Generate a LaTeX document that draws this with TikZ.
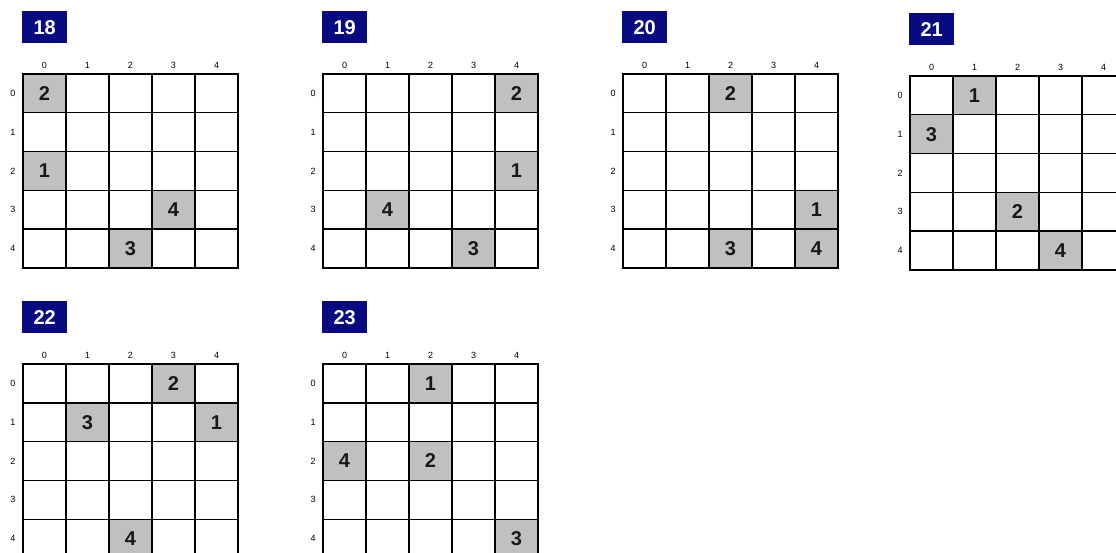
\documentclass[tikz,border=0pt]{standalone}
\usepackage{fontspec}
\setmainfont{Liberation Sans}
\usepackage{tikz}
\usetikzlibrary{positioning,calc}
\definecolor{boardblue}{RGB}{10,10,128}
\definecolor{givengray}{RGB}{192,192,192}
\definecolor{inkgray}{RGB}{25,25,25}
% #1 puzzle number, #2/#3 top-left corner of the board (px), #4 given cells row/col/value
\newcommand{\board}[4]{%
 \node[numbox,anchor=north west] (t#1) at (#2-1,-#3+63) {#1};
 \foreach \r in {0,...,4}{
  \node[idx] (row#1-\r) at (#2-10,{-#3-19.4-38.8*\r}) {\r};
  \foreach \c in {0,...,4}
   \node[cell] (c#1-\r\c) at ({#2+21.5+43*\c},{-#3-19.4-38.8*\r}) {};
 }
 \foreach \c in {0,...,4}
  \node[idx] (col#1-\c) at ({#2+21.5+43*\c},-#3+9) {\c};
 \foreach \r/\c/\v in {#4}
  \node[cell,given] (v#1-\r\c) at (c#1-\r\c.center) {\v};
}

\begin{document}
\begin{tikzpicture}[x=1pt,y=1pt,
 cell/.style={draw=black,line width=1.4pt,minimum width=43pt,minimum height=38.8pt,inner sep=0pt},
 given/.style={fill=givengray,text=inkgray,font=\bfseries\fontsize{20}{20}\selectfont},
 idx/.style={font=\fontsize{9}{9}\selectfont,inner sep=0pt},
 numbox/.style={fill=boardblue,text=white,minimum width=45pt,minimum height=32pt,inner sep=0pt,
  font=\bfseries\fontsize{20}{20}\selectfont}]
\clip (0,0) rectangle (1116,-553);
\fill[white] (0,0) rectangle (1116,-553);
\board{18}{23}{74}{0/0/2,2/0/1,3/3/4,4/2/3}
\board{19}{323}{74}{0/4/2,2/4/1,3/1/4,4/3/3}
\board{20}{623}{74}{0/2/2,3/4/1,4/2/3,4/4/4}
\board{21}{910}{76}{0/1/1,1/0/3,3/2/2,4/3/4}
\board{22}{23}{364}{0/3/2,1/1/3,1/4/1,4/2/4}
\board{23}{323}{364}{0/2/1,2/0/4,2/2/2,4/4/3}
\end{tikzpicture}
\end{document}
